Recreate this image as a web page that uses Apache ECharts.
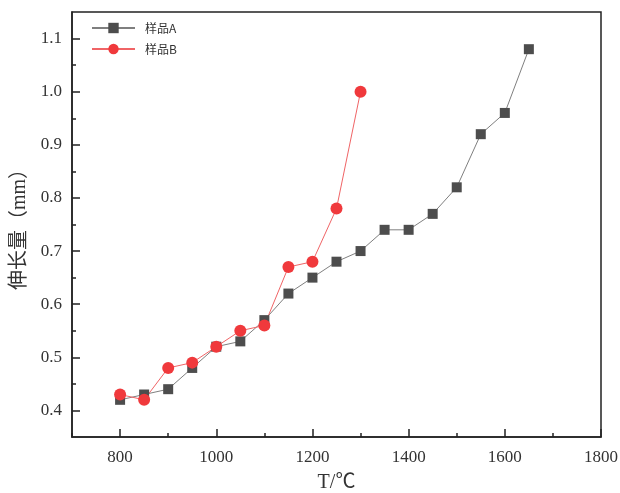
<!DOCTYPE html>
<html>
<head>
<meta charset="utf-8">
<script src="https://cdn.jsdelivr.net/npm/echarts@6/dist/echarts.min.js"></script>
<style>
html, body { margin: 0; padding: 0; background: #fff; }
#main { width: 620px; height: 493px; }
</style>
</head>
<body>
<div id="main"></div>
<script>
var tempA = [800, 850, 900, 950, 1000, 1050, 1100, 1150, 1200, 1250, 1300, 1350, 1400, 1450, 1500, 1550, 1600, 1650];
var valA = [0.42, 0.43, 0.44, 0.48, 0.52, 0.53, 0.57, 0.62, 0.65, 0.68, 0.70, 0.74, 0.74, 0.77, 0.82, 0.92, 0.96, 1.08];
var tempB = [800, 850, 900, 950, 1000, 1050, 1100, 1150, 1200, 1250, 1300];
var valB = [0.43, 0.42, 0.48, 0.49, 0.52, 0.55, 0.56, 0.67, 0.68, 0.78, 1.00];

// tick positions
var xMajor = [800, 1000, 1200, 1400, 1600, 1800];
var xMinor = [700, 900, 1100, 1300, 1500, 1700];
var yMajor = [0.4, 0.5, 0.6, 0.7, 0.8, 0.9, 1.0, 1.1];
var yMinor = [0.45, 0.55, 0.65, 0.75, 0.85, 0.95, 1.05];

function pairs(xs, ys) {
    var out = [];
    for (var i = 0; i < xs.length; i++) out.push([xs[i], ys[i]]);
    return out;
}

var serif = 'Liberation Serif, Noto Sans CJK SC';
var axisColor = '#222';
var myChart = echarts.init(document.getElementById('main'));

var option = {
    backgroundColor: '#fff',
    animation: false,
    grid: {
        left: 72,
        right: 19,
        top: 12,
        bottom: 56,
        outerBoundsMode: 'none',
        containLabel: false,
        show: true,
        borderColor: axisColor,
        borderWidth: 1.5
    },
    legend: {
        orient: 'vertical',
        left: 86,
        top: 17,
        itemWidth: 43,
        itemHeight: 13,
        itemGap: 9,
        textStyle: { fontSize: 12, color: '#333', fontFamily: 'Noto Sans CJK SC', padding: [0, 0, 0, 5] },
        data: ['样品A', '样品B']
    },
    xAxis: [{
        type: 'value',
        min: 700,
        max: 1800,
        interval: 100,
        name: 'T/℃',
        nameLocation: 'middle',
        nameGap: 36,
        nameTextStyle: { fontSize: 20, color: '#333', fontFamily: serif },
        axisLine: { lineStyle: { color: axisColor, width: 1.5 } },
        axisTick: { inside: true, length: 8, customValues: xMajor, lineStyle: { color: axisColor, width: 1.5 } },
        splitLine: { show: false },
        axisLabel: {
            fontSize: 17, color: '#333', fontFamily: serif, margin: 12, customValues: xMajor,
            formatter: function (v) { return String(v); }
        }
    }, {
        type: 'value',
        position: 'bottom',
        min: 700,
        max: 1800,
        interval: 100,
        axisLine: { show: false },
        axisTick: { inside: true, length: 4, customValues: xMinor, lineStyle: { color: axisColor, width: 1.5 } },
        splitLine: { show: false },
        axisLabel: { show: false }
    }],
    yAxis: [{
        type: 'value',
        min: 0.35,
        max: 1.15,
        interval: 0.05,
        name: '伸长量（mm）',
        nameLocation: 'middle',
        nameGap: 42,
        nameTextStyle: { fontSize: 20, color: '#333', fontFamily: serif },
        axisLine: { lineStyle: { color: axisColor, width: 1.5 } },
        axisTick: { inside: true, length: 8, customValues: yMajor, lineStyle: { color: axisColor, width: 1.5 } },
        splitLine: { show: false },
        axisLabel: {
            fontSize: 17, color: '#333', fontFamily: serif, margin: 10, customValues: yMajor,
            formatter: function (v) { return v.toFixed(1); }
        }
    }, {
        type: 'value',
        position: 'left',
        min: 0.35,
        max: 1.15,
        interval: 0.05,
        axisLine: { show: false },
        axisTick: { inside: true, length: 4, customValues: yMinor, lineStyle: { color: axisColor, width: 1.5 } },
        splitLine: { show: false },
        axisLabel: { show: false }
    }],
    series: [{
        name: '样品A',
        type: 'line',
        symbol: 'rect',
        symbolSize: 10,
        color: '#4d4d4d',
        lineStyle: { color: '#7f7f7f', width: 1 },
        itemStyle: { color: '#4d4d4d' },
        data: pairs(tempA, valA)
    }, {
        name: '样品B',
        type: 'line',
        symbol: 'circle',
        symbolSize: 12,
        color: '#f0393c',
        lineStyle: { color: '#f06466', width: 1 },
        itemStyle: { color: '#f0393c' },
        data: pairs(tempB, valB)
    }]
};
myChart.setOption(option);
</script>
</body>
</html>
